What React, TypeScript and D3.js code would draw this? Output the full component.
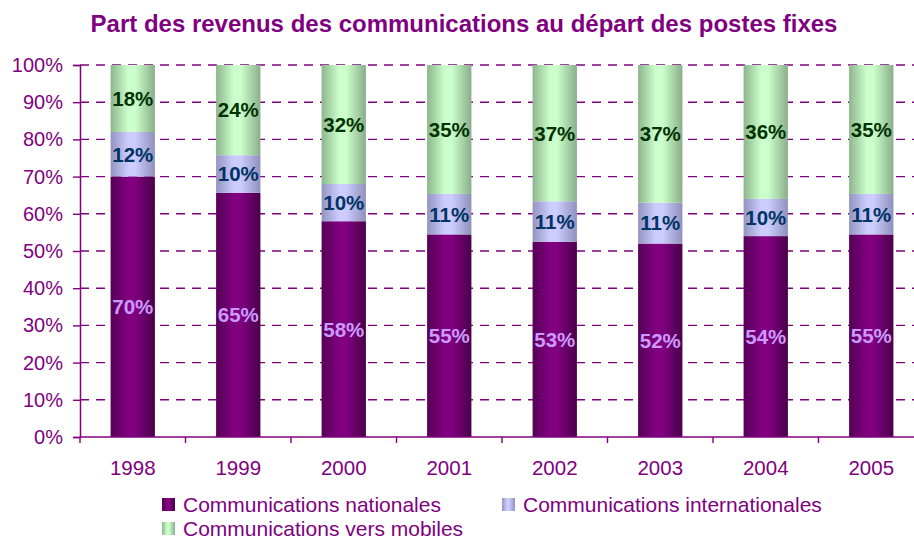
import React, { useEffect, useRef } from "react";
import * as d3 from "d3";

const years = ["1998", "1999", "2000", "2001", "2002", "2003", "2004", "2005"];
const nationales = [70, 65, 58, 55, 53, 52, 54, 55];
const internationales = [12, 10, 10, 11, 11, 11, 10, 11];
const mobiles = [18, 24, 32, 35, 37, 37, 36, 35];
const seriesNames = [
  "Communications nationales",
  "Communications internationales",
  "Communications vers mobiles",
];
const yTicks = [0, 0.1, 0.2, 0.3, 0.4, 0.5, 0.6, 0.7, 0.8, 0.9, 1];

const PURPLE = "#800080";
const FONT = "'Liberation Sans', Arial, sans-serif";

// gradient stops per series (left edge -> light center -> right edge)
const gradients = [
  { id: "gNat", stops: ["#560056", "#800080", "#800080", "#4a004a"] },
  { id: "gInt", stops: ["#9494c0", "#ccccff", "#ccccff", "#9090bb"] },
  { id: "gMob", stops: ["#8db58d", "#ccffcc", "#ccffcc", "#8aae8a"] },
];
const labelColors = ["#cc99ff", "#003366", "#003300"];

const App = () => {
  const svgRef = useRef<SVGSVGElement>(null);

  useEffect(() => {
    const width = 914;
    const height = 542;
    const margin = { top: 65, left: 80 };
    const plotW = 844;
    const plotH = 372;

    const svg = d3.select(svgRef.current);
    svg.selectAll("*").remove();
    svg.attr("width", width).attr("height", height);

    const defs = svg.append("defs");
    gradients.forEach((g) => {
      const lg = defs
        .append("linearGradient")
        .attr("id", g.id)
        .attr("x1", "0%")
        .attr("x2", "100%")
        .attr("y1", "0%")
        .attr("y2", "0%");
      [0, 0.4, 0.55, 1].forEach((o, i) =>
        lg.append("stop").attr("offset", o).attr("stop-color", g.stops[i])
      );
    });

    svg
      .append("text")
      .attr("x", 464)
      .attr("y", 32)
      .attr("text-anchor", "middle")
      .style("font-family", FONT)
      .style("font-weight", "bold")
      .style("font-size", "24px")
      .style("fill", PURPLE)
      .text("Part des revenus des communications au départ des postes fixes");

    const g = svg.append("g").attr("transform", `translate(${margin.left}, ${margin.top})`);

    const x = d3.scaleBand().domain(years).range([0, plotW]).paddingInner(0.58).paddingOuter(0.29);
    const y = d3.scaleLinear().domain([0, 1]).range([plotH, 0]);

    // gridlines
    g.selectAll(".grid")
      .data(yTicks.filter((t) => t > 0))
      .enter()
      .append("line")
      .attr("x1", 0)
      .attr("x2", plotW)
      .attr("y1", (d) => y(d))
      .attr("y2", (d) => y(d))
      .style("stroke", PURPLE)
      .style("stroke-width", 1.4)
      .style("stroke-dasharray", "9,7");

    const table = years.map((yr, i) => ({
      year: yr,
      nat: nationales[i],
      int: internationales[i],
      mob: mobiles[i],
    }));
    const keys = ["nat", "int", "mob"];
    const stacked = d3.stack<any>().keys(keys).offset(d3.stackOffsetExpand)(table);

    stacked.forEach((layer, si) => {
      const lg = g.append("g");
      lg.selectAll("rect")
        .data(layer)
        .enter()
        .append("rect")
        .attr("x", (d: any) => x(d.data.year)!)
        .attr("width", x.bandwidth())
        .attr("y", (d) => y(d[1]))
        .attr("height", (d) => y(d[0]) - y(d[1]))
        .style("fill", `url(#${gradients[si].id})`);
    });

    stacked.forEach((layer, si) => {
      g.append("g")
        .selectAll("text")
        .data(layer)
        .enter()
        .append("text")
        .attr("x", (d: any) => x(d.data.year)! + x.bandwidth() / 2)
        .attr("y", (d) => (y(d[0]) + y(d[1])) / 2)
        .attr("dy", "0.36em")
        .attr("text-anchor", "middle")
        .style("font-family", FONT)
        .style("font-weight", "bold")
        .style("font-size", "20.5px")
        .style("fill", labelColors[si])
        .text((d: any) => `${d.data[keys[si]]}%`);
    });

    // y axis
    const yAxis = g
      .append("g")
      .call(d3.axisLeft(y).tickValues(yTicks).tickFormat(d3.format(".0%")).tickSize(7).tickPadding(10));
    yAxis.select(".domain").style("stroke", PURPLE).style("stroke-width", 1.5);
    yAxis.selectAll("line").style("stroke", PURPLE).style("stroke-width", 1.4);
    yAxis
      .selectAll("text")
      .style("fill", PURPLE)
      .style("font-family", FONT)
      .style("font-size", "20px");

    // x axis
    const xAxis = g.append("g").attr("transform", `translate(0, ${plotH})`);
    xAxis
      .append("line")
      .attr("x1", 0)
      .attr("x2", plotW)
      .style("stroke", PURPLE)
      .style("stroke-width", 1.5);
    xAxis
      .selectAll(".tk")
      .data(years)
      .enter()
      .append("line")
      .attr("x1", (d) => x(d)! - (x.step() - x.bandwidth()) / 2)
      .attr("x2", (d) => x(d)! - (x.step() - x.bandwidth()) / 2)
      .attr("y1", 0)
      .attr("y2", 6)
      .style("stroke", PURPLE)
      .style("stroke-width", 1.4);
    xAxis
      .selectAll(".lbl")
      .data(years)
      .enter()
      .append("text")
      .attr("x", (d) => x(d)! + x.bandwidth() / 2)
      .attr("y", 38)
      .attr("text-anchor", "middle")
      .style("fill", PURPLE)
      .style("font-family", FONT)
      .style("font-size", "20.5px")
      .text((d) => d);

    // legend
    const legendPos = [
      { x: 162, y: 498 },
      { x: 502, y: 498 },
      { x: 162, y: 522 },
    ];
    seriesNames.forEach((name, i) => {
      const p = legendPos[i];
      svg
        .append("rect")
        .attr("x", p.x)
        .attr("y", p.y)
        .attr("width", 13)
        .attr("height", 13)
        .style("fill", `url(#${gradients[i].id})`);
      svg
        .append("text")
        .attr("x", p.x + 21)
        .attr("y", p.y + 14)
        .style("fill", PURPLE)
        .style("font-family", FONT)
        .style("font-size", "21px")
        .text(name);
    });
  }, []);

  return <svg ref={svgRef} style={{ position: "absolute", left: 0, top: 0 }}></svg>;
};

export default App;
